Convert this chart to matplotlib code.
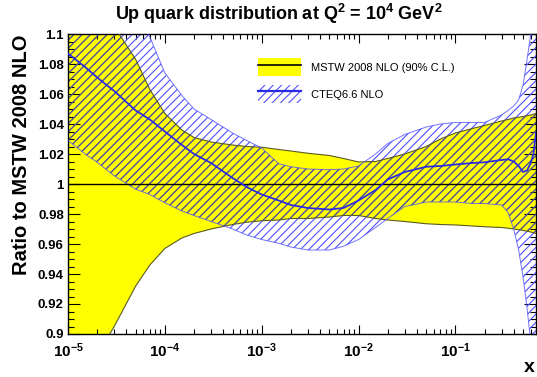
import numpy as np
import matplotlib.pyplot as plt
from matplotlib.patches import Patch
from matplotlib.lines import Line2D
from matplotlib.ticker import FixedLocator, NullFormatter, LogLocator

plt.rcParams['font.family'] = ['Liberation Sans', 'DejaVu Sans']
plt.rcParams['mathtext.fontset'] = 'custom'
plt.rcParams['mathtext.rm'] = 'Liberation Sans:bold'
plt.rcParams['mathtext.bf'] = 'Liberation Sans:bold'
plt.rcParams['hatch.linewidth'] = 0.8

## DATA ##
# x grid shared by all curves
x = [1e-5, 1.5e-5, 2e-5, 3e-5, 5e-5, 7e-5, 1e-4, 1.5e-4, 2e-4, 3e-4, 5e-4, 7e-4,
     1e-3, 1.5e-3, 2e-3, 3e-3, 5e-3, 7e-3, 0.01, 0.015, 0.02, 0.03, 0.05, 0.07,
     0.1, 0.15, 0.2, 0.3, 0.35, 0.4, 0.45, 0.5, 0.55, 0.6, 0.64, 0.68]

# MSTW 2008 NLO 90% C.L. band (ratio to its own central value)
mstw_up = [1.15, 1.13, 1.118, 1.105, 1.083, 1.063, 1.047, 1.036, 1.031, 1.028, 1.026, 1.025,
           1.0245, 1.023, 1.022, 1.0205, 1.019, 1.017, 1.0147, 1.015, 1.017, 1.020, 1.025, 1.030,
           1.034, 1.037, 1.039, 1.042, 1.043, 1.044, 1.0445, 1.045, 1.0455, 1.046, 1.0465, 1.047]
mstw_lo = [0.855, 0.872, 0.886, 0.905, 0.932, 0.946, 0.957, 0.964, 0.967, 0.970, 0.973, 0.9745,
           0.9755, 0.976, 0.977, 0.977, 0.978, 0.979, 0.979, 0.977, 0.976, 0.975, 0.9735, 0.973,
           0.9727, 0.972, 0.9715, 0.971, 0.9705, 0.970, 0.9695, 0.969, 0.9685, 0.968, 0.9675, 0.967]

# CTEQ6.6 NLO central value and band
cteq_c = [1.087, 1.078, 1.071, 1.062, 1.049, 1.043, 1.035, 1.026, 1.020, 1.014, 1.004, 0.998,
          0.993, 0.989, 0.986, 0.984, 0.983, 0.984, 0.989, 0.996, 1.003, 1.008, 1.0115, 1.012,
          1.013, 1.014, 1.0145, 1.016, 1.0165, 1.015, 1.012, 1.008, 1.009, 1.014, 1.020, 1.034]
cteq_up = [1.20, 1.18, 1.165, 1.14, 1.118, 1.098, 1.074, 1.059, 1.050, 1.043, 1.034, 1.029,
           1.024, 1.0135, 1.0115, 1.010, 1.0095, 1.010, 1.012, 1.020, 1.027, 1.033, 1.038, 1.040,
           1.041, 1.041, 1.041, 1.046, 1.049, 1.052, 1.056, 1.066, 1.083, 1.10, 1.115, 1.13]
cteq_lo = [1.029, 1.020, 1.0145, 1.0055, 0.9965, 0.993, 0.9875, 0.982, 0.979, 0.975, 0.970, 0.966,
           0.963, 0.9605, 0.958, 0.956, 0.956, 0.9585, 0.963, 0.971, 0.977, 0.985, 0.988, 0.988,
           0.988, 0.987, 0.987, 0.986, 0.981, 0.970, 0.956, 0.938, 0.917, 0.895, 0.88, 0.86]

y_ticks = [0.9, 0.92, 0.94, 0.96, 0.98, 1.0, 1.02, 1.04, 1.06, 1.08, 1.1]
y_labels = ["0.9", "0.92", "0.94", "0.96", "0.98", "1", "1.02", "1.04", "1.06", "1.08", "1.1"]
x_ticks = [1e-5, 1e-4, 1e-3, 1e-2, 1e-1]
x_labels = [r"$\mathbf{10^{-5}}$", r"$\mathbf{10^{-4}}$", r"$\mathbf{10^{-3}}$",
            r"$\mathbf{10^{-2}}$", r"$\mathbf{10^{-1}}$"]

yellow = "#ffff00"
band_edge = "#5a5a20"
blue = "#2a2ae8"
hatch_blue = "#5050ff"
hatch_dark = "#55557a"   # hatch where it sits on top of the yellow band

## PLOTTING ##
fig = plt.figure(figsize=(5.37, 3.77), dpi=100)
ax = fig.add_axes([68 / 537, 1 - 334 / 377, 468 / 537, 300 / 377])

mstw_fill = ax.fill_between(x, mstw_lo, mstw_up, facecolor=yellow, edgecolor="none", zorder=1)

# CTEQ hatch: light blue on white, darker inside the yellow band
ax.fill_between(x, cteq_lo, cteq_up, facecolor="none", edgecolor=hatch_blue,
                hatch="////", linewidth=0, zorder=2)
dark = ax.fill_between(x, cteq_lo, cteq_up, facecolor="none", edgecolor=hatch_dark,
                       hatch="////", linewidth=0, zorder=2.5)
dark.set_clip_path(mstw_fill.get_paths()[0], ax.transData)

ax.plot(x, mstw_up, color=band_edge, lw=0.8, zorder=3)
ax.plot(x, mstw_lo, color=band_edge, lw=0.8, zorder=3)
ax.plot(x, cteq_up, color=hatch_blue, lw=0.7, alpha=0.8, zorder=3)
ax.plot(x, cteq_lo, color=hatch_blue, lw=0.7, alpha=0.8, zorder=3)

ax.axhline(1.0, color="black", lw=1.0, zorder=4)
ax.plot(x, cteq_c, color=blue, lw=1.3, zorder=5)

ax.set_xscale("log")
ax.set_xlim(1e-5, 0.68)
ax.set_ylim(0.9, 1.1)

ax.xaxis.set_major_locator(FixedLocator(x_ticks))
ax.set_xticklabels(x_labels)
ax.xaxis.set_minor_locator(LogLocator(base=10, subs=np.arange(2, 10), numticks=20))
ax.xaxis.set_minor_formatter(NullFormatter())
ax.set_yticks(y_ticks)
ax.set_yticklabels(y_labels)
ax.yaxis.set_minor_locator(FixedLocator(np.arange(0.9, 1.1001, 0.005)))

ax.tick_params(axis="both", which="both", direction="in", top=True, right=True, width=0.8)
ax.tick_params(axis="y", which="major", length=8.5, labelsize=9.5, pad=3)
ax.tick_params(axis="y", which="minor", length=4.3)
ax.tick_params(axis="x", which="major", length=6.5, labelsize=11, pad=5)
ax.tick_params(axis="x", which="minor", length=3.5)
for lab in ax.get_yticklabels():
    lab.set_fontweight("bold")
for sp in ax.spines.values():
    sp.set_linewidth(1.0)

ax.set_ylabel("Ratio to MSTW 2008 NLO", fontsize=14.5, fontweight="bold", loc="top", labelpad=5)
fig.text(529 / 537, 1 - 368 / 377, "x", ha="center", va="center", fontsize=14, fontweight="bold")
fig.text(0.52, 0.962, r"Up quark distribution at Q$^{2}$ = 10$^{4}$ GeV$^{2}$",
         ha="center", va="center", fontsize=13, fontweight="bold")

# Legend
h_mstw = (Patch(facecolor=yellow, edgecolor="none"), Line2D([], [], color="black", lw=1.2))
h_cteq = (Patch(facecolor="none", edgecolor=hatch_blue, hatch="////", linewidth=0),
          Line2D([], [], color=blue, lw=1.6))
ax.legend([h_mstw, h_cteq], ["MSTW 2008 NLO (90% C.L.)", "CTEQ6.6 NLO"],
          loc="upper left", bbox_to_anchor=(0.39, 0.945), frameon=False, fontsize=8,
          handlelength=3.8, handleheight=2.1, handletextpad=0.9, labelspacing=0.8,
          borderpad=0.2)

fig.savefig("out.png", dpi=100)
